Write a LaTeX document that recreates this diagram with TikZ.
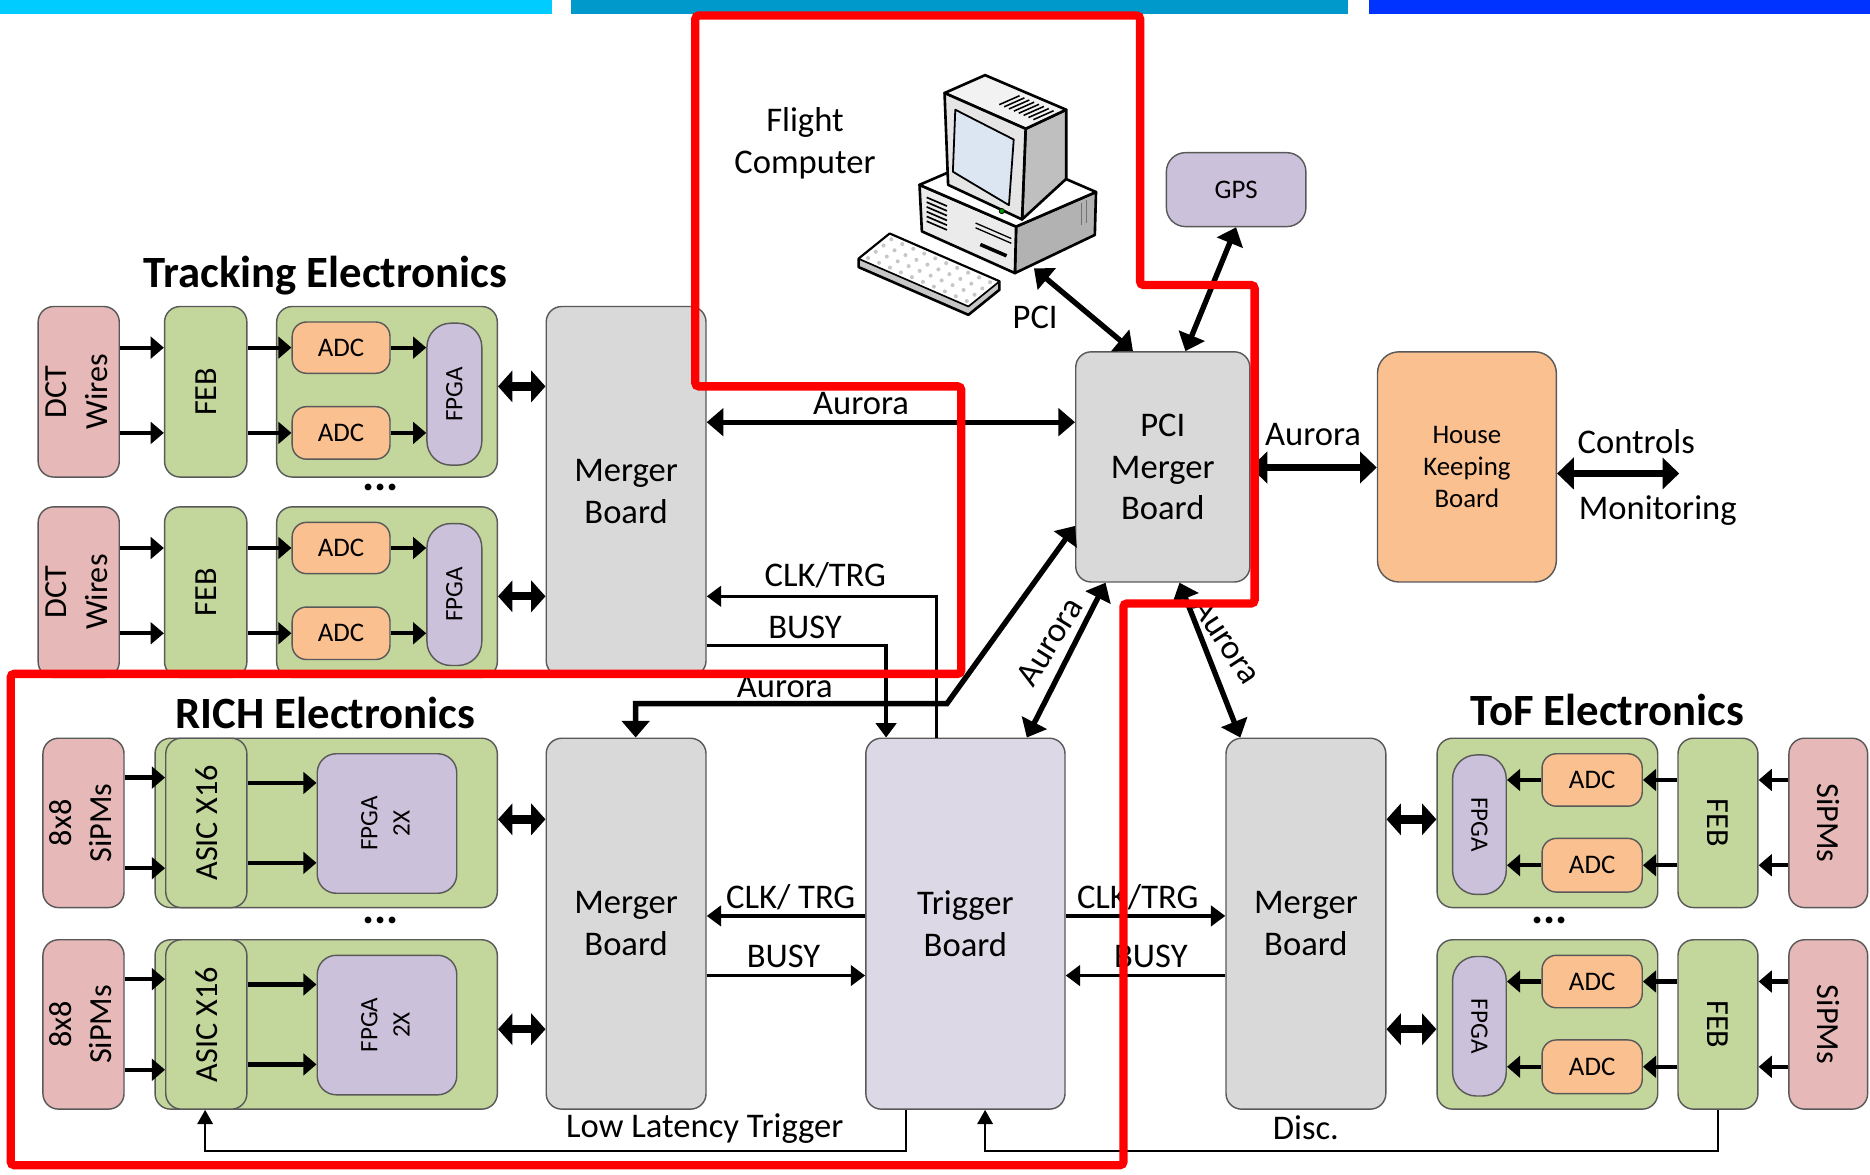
\documentclass[tikz,border=0pt]{standalone}
\usepackage{fontspec}
\usepackage{graphicx}
\setmainfont{Carlito}
\usetikzlibrary{arrows.meta}

\definecolor{pinkc}{HTML}{E6B8B7}
\definecolor{greenc}{HTML}{C3D69B}
\definecolor{orangec}{HTML}{FAC090}
\definecolor{purplec}{HTML}{CCC1DA}
\definecolor{trigc}{HTML}{DDD8E6}
\definecolor{grayc}{HTML}{D9D9D9}
\definecolor{edgec}{HTML}{595959}
\definecolor{barA}{HTML}{00CCFF}
\definecolor{barB}{HTML}{0099CC}
\definecolor{barC}{HTML}{0033FF}
\definecolor{screenc}{HTML}{DCE6F2}

\newcommand\fsL{\fontsize{29}{35}\selectfont}
\newcommand\fsR{\fontsize{27}{34}\selectfont}
\newcommand\fsS{\fontsize{22.5}{27}\selectfont}
\newcommand\fsF{\fontsize{21}{27}\selectfont}
\newcommand\fsT{\fontsize{37.5}{42}\selectfont\bfseries}
\newcommand\fsD{\fontsize{38}{40}\selectfont\bfseries}
\newcommand\rottext[2]{\rotatebox{#1}{\begin{tabular}{@{}c@{}}#2\end{tabular}}}
% box given by its left, right, top and bottom edges
\newcommand\mkbox[7]{\node[#1, minimum width={(#4)-(#3)}, minimum height={(#6)-(#5)}] (#2) at ({((#3)+(#4))/2},{((#5)+(#6))/2}) {#7};}

\begin{document}
\begin{tikzpicture}[x=1pt, y=-1pt,
  blk/.style={draw=edgec, line width=1.2pt, rounded corners=13pt, inner sep=0pt, align=center, font=\fsL},
  pill/.style={blk, rounded corners=20pt},
  fat/.style={line width=3.6pt, -{Triangle[length=11pt,width=18pt]}},
  dbl/.style={line width=7pt, {Triangle[length=12pt,width=26pt]}-{Triangle[length=12pt,width=26pt]}},
  aur/.style={line width=4.5pt, {Triangle[length=14pt,width=23pt]}-{Triangle[length=14pt,width=23pt]}},
  hkarr/.style={line width=6.5pt, {Triangle[length=14pt,width=26pt]}-{Triangle[length=14pt,width=26pt]}},
  sig/.style={line width=2.8pt, -{Triangle[length=12pt,width=17pt]}},
  lowarr/.style={line width=1.8pt, -{Triangle[length=12pt,width=13pt]}},
  txt/.style={inner sep=0pt, align=center, font=\fsL},
  ttl/.style={inner sep=0pt, font=\fsT},
  dots/.style={inner sep=0pt, font=\fsD},
]
\useasboundingbox (0,0) rectangle (1568,985);

% header bars
\fill[barA] (0,0) rectangle (463,12);
\fill[barB] (479,0) rectangle (1130,12);
\fill[barC] (1148,0) rectangle (1568,12);

% central boards
\mkbox{blk, fill=grayc}{tm}{458}{592}{257}{567}{Merger\\Board}
\mkbox{blk, fill=grayc}{rm}{458}{592}{619}{930}{Merger\\Board}
\mkbox{blk, fill=trigc}{trig}{726}{893}{619}{930}{Trigger\\Board}
\mkbox{blk, fill=grayc}{tofm}{1028}{1162}{619}{930}{Merger\\Board}
\mkbox{blk, fill=grayc}{pci}{902}{1048}{295}{488}{PCI\\Merger\\Board}
\mkbox{blk, fill=orangec, font=\fsS, rounded corners=18pt}{hk}{1155}{1305}{295}{488}{House\\Keeping\\Board}
\mkbox{blk, fill=purplec, font=\fsS, rounded corners=16pt}{gps}{978}{1095}{128}{190}{GPS}

% tracking electronics
\node[ttl] (tTrk) at (273,231) {Tracking Electronics};
\foreach \r/\t/\d in {1/257/324,2/425/500}{
  \mkbox{blk, fill=pinkc, font=\fsR}{dct\r}{32}{100}{\t}{\t+143}{\rottext{90}{DCT\\Wires}}
  \mkbox{blk, fill=greenc, font=\fsR}{feb\r}{138}{207}{\t}{\t+143}{\rotatebox{90}{FEB}}
  \mkbox{blk, fill=greenc}{tcar\r}{232}{417}{\t}{\t+143}{}
  \mkbox{blk, fill=orangec, font=\fsS, rounded corners=12pt}{adcA\r}{245}{327}{\t+13}{\t+56}{ADC}
  \mkbox{blk, fill=orangec, font=\fsS, rounded corners=12pt}{adcB\r}{245}{327}{\t+84}{\t+128}{ADC}
  \mkbox{pill, fill=purplec, font=\fsF}{tfpga\r}{358}{404}{\t+14}{\t+133}{\rotatebox{90}{FPGA}}
  \foreach \q in {adcA\r,adcB\r}{
    \draw[fat] (dct\r.east |- \q.center) -- (feb\r.west |- \q.center);
    \draw[fat] (feb\r.east |- \q.center) -- (\q.west);
    \draw[fat] (\q.east) -- (tfpga\r.west |- \q.center);
  }
  \draw[dbl] (tcar\r.east |- 0,\d) -- (tm.west |- 0,\d);
}
\node[dots] (dTrk) at (319,409) {...};

% RICH electronics
\node[ttl] (tRich) at (273,598) {RICH Electronics};
\foreach \r/\t/\d in {1/619/687,2/788/863}{
  \mkbox{blk, fill=pinkc, font=\fsR}{sip\r}{37}{103}{\t}{\t+142}{\rottext{90}{8x8\\SiPMs}}
  \mkbox{blk, fill=greenc}{rcar\r}{130}{417}{\t}{\t+142}{}
  \mkbox{blk, fill=greenc, font=\fsR}{asic\r}{139}{207}{\t}{\t+142}{\rotatebox{90}{ASIC X16}}
  \mkbox{blk, fill=purplec, font=\fsF, rounded corners=16pt}{rfpga\r}{266}{383}{\t+13}{\t+130}{\rottext{90}{FPGA\\2X}}
  \draw[fat] (sip\r.east |- 0,\t+33) -- (asic\r.west |- 0,\t+33);
  \draw[fat] (sip\r.east |- 0,\t+109) -- (asic\r.west |- 0,\t+109);
  \draw[fat] (asic\r.east |- 0,\t+37.5) -- (rfpga\r.west |- 0,\t+37.5);
  \draw[fat] (asic\r.east |- 0,\t+104.5) -- (rfpga\r.west |- 0,\t+104.5);
  \draw[dbl] (rcar\r.east |- 0,\d) -- (rm.west |- 0,\d);
}
\node[dots] (dRich) at (319,772) {...};

% ToF electronics
\node[ttl] (tTof) at (1348,595) {ToF Electronics};
\foreach \r/\t/\d in {1/619/687,2/788/863}{
  \mkbox{blk, fill=greenc}{fcar\r}{1205}{1390}{\t}{\t+142}{}
  \mkbox{pill, fill=purplec, font=\fsF}{ffpga\r}{1218}{1263}{\t+14}{\t+131}{\rotatebox{-90}{FPGA}}
  \mkbox{blk, fill=orangec, font=\fsS, rounded corners=12pt}{fadcA\r}{1293}{1377}{\t+13}{\t+57}{ADC}
  \mkbox{blk, fill=orangec, font=\fsS, rounded corners=12pt}{fadcB\r}{1293}{1377}{\t+84}{\t+129}{ADC}
  \mkbox{blk, fill=greenc, font=\fsR}{ffeb\r}{1407}{1474}{\t}{\t+142}{\rotatebox{-90}{FEB}}
  \mkbox{blk, fill=pinkc, font=\fsR}{fsip\r}{1500}{1566}{\t}{\t+142}{\rotatebox{-90}{SiPMs}}
  \foreach \q in {fadcA\r,fadcB\r}{
    \draw[fat] (fsip\r.west |- \q.center) -- (ffeb\r.east |- \q.center);
    \draw[fat] (ffeb\r.west |- \q.center) -- (\q.east);
    \draw[fat] (\q.west) -- (ffpga\r.east |- \q.center);
  }
  \draw[dbl] (fcar\r.west |- 0,\d) -- (tofm.east |- 0,\d);
}
\node[dots] (dTof) at (1299,772) {...};

% flight computer
\node[txt] (tFC) at (675,120) {Flight\\Computer};
\begin{scope}[line width=2.2pt, line join=round]
  % keyboard
  \filldraw[fill=black!22] (720,217) -- (746,196) -- (838,236) -- (838,243) -- (812,264) -- (720,224) -- cycle;
  \filldraw[fill=white, line width=1.4pt] (720,217) -- (746,196) -- (838,236) -- (812,257) -- cycle;
  \foreach \i in {0,...,9} \foreach \j in {0,...,3}
    \fill[black!22] ({720+(\i+0.5)*9.2+(\j+0.5)*6.5},{217+(\i+0.5)*4-(\j+0.5)*5.25}) circle (1.7);
  % desktop case
  \filldraw[fill=black!30] (852,190) -- (919,161) -- (918,197) -- (851,229) -- cycle;
  \filldraw[fill=black!8] (771,155) -- (852,190) -- (851,229) -- (773,194) -- cycle;
  \filldraw[fill=white] (771,155) -- (838,126) -- (919,161) -- (852,190) -- cycle;
  \foreach \k in {0,...,5}
    \draw[line width=1.4pt] (777,{165.5+4*\k}) -- (794,{172.8+4*\k});
  \draw[line width=1.1pt] (818,187) -- (848,200);
  \draw[line width=1.1pt] (818,191) -- (848,204);
  \draw[line width=3pt] (822,205) -- (844,214.5);
  \draw[line width=1pt, black!55] (907,170) -- (907,189);
  \draw[line width=1pt, black!55] (911,168) -- (911,187);
  % monitor
  \filldraw[fill=black!25] (860,108) -- (894,92) -- (894,150) -- (857,184) -- cycle;
  \filldraw[fill=black!5] (792,78) -- (826,63) -- (894,92) -- (860,108) -- cycle;
  \foreach \f in {0.5,0.56,...,0.95}
    \draw[line width=1.3pt] ({803.9+68*\f},{72.75+30*\f}) -- ({820.9+68*\f},{65.25+30*\f});
  \filldraw[fill=black!10] (792,78) -- (860,108) -- (857,184) -- (795,155) -- cycle;
  \filldraw[fill=screenc, line width=1.5pt] (801,92) -- (850,117) -- (846,172) -- (799,144) -- cycle;
  \filldraw[fill=green!60!black, line width=0.6pt] (840,177) circle (2.2);
\end{scope}
\coordinate (pc) at (867,225);

% links to the PCI merger board
\draw[aur] (pc) -- ([xshift=-25pt]pci.north);
\node[txt] (lPCI) at (868,266) {PCI};
\draw[aur] (gps.south) -- ([xshift=19pt]pci.north);
\draw[aur] (tm.east |- 0,354) -- (pci.west |- 0,354);
\node[txt] (lAu1) at (722,338) {Aurora};
\draw[hkarr] (pci.east |- 0,392) -- (hk.west |- 0,392);
\node[txt] (lAu2) at (1101,364) {Aurora};
\coordinate (cm) at (1408,397);
\draw[hkarr] (hk.east |- cm) -- (cm);
\node[txt] (lCtl) at (1372,370) {Controls};
\node[txt] (lMon) at (1390,428) {Monitoring};

% trigger and clock distribution
\draw[sig] (trig.north -| 785,0) |- (tm.east |- 0,500);
\node[txt] (lCT1) at (692,482) {CLK/TRG};
\draw[sig] (tm.east |- 0,541) -| (trig.north -| 743,0);
\node[txt] (lBU1) at (675,526) {BUSY};
\draw[aur] (pci.west |- 0,441) -- (794,590) -| (rm.north -| 533,0);
\node[txt] (lAu3) at (658,576) {Aurora};
\draw[aur] (pci.south -| 927,0) -- (trig.north -| 861,0);
\node[txt, rotate=58] (lAu4) at (880,538) {Aurora};
\draw[aur] (pci.south -| 989,0) -- (tofm.north -| 1040,0);
\node[txt, rotate=-57] (lAu5) at (1029,537) {Aurora};

\draw[sig] (trig.west |- 0,768) -- (rm.east |- 0,768);
\node[txt] (lCT2) at (663,752) {CLK/ TRG};
\draw[sig] (rm.east |- 0,818) -- (trig.west |- 0,818);
\node[txt] (lBU2) at (657,802) {BUSY};
\draw[sig] (trig.east |- 0,768) -- (tofm.west |- 0,768);
\node[txt] (lCT3) at (954,752) {CLK/TRG};
\draw[sig] (tofm.west |- 0,818) -- (trig.east |- 0,818);
\node[txt] (lBU3) at (965,802) {BUSY};

\draw[lowarr] (trig.south -| 760,0) -- (760,965) -| (rcar2.south -| 172,0);
\node[txt] (lLLT) at (591,946) {Low Latency Trigger};
\draw[lowarr] (ffeb2.south) -- (ffeb2.south |- 0,965) -| (trig.south -| 826,0);
\node[txt] (lDisc) at (1095,946) {Disc.};

% highlighted region
\draw[red, line width=7pt, rounded corners=3pt]
  (583,13) -- (956,13) -- (956,239) -- (1052,239) -- (1052,506) -- (942,506)
  -- (942,977) -- (9,977) -- (9,565) -- (806,565) -- (806,324) -- (583,324) -- cycle;
\end{tikzpicture}
\end{document}
